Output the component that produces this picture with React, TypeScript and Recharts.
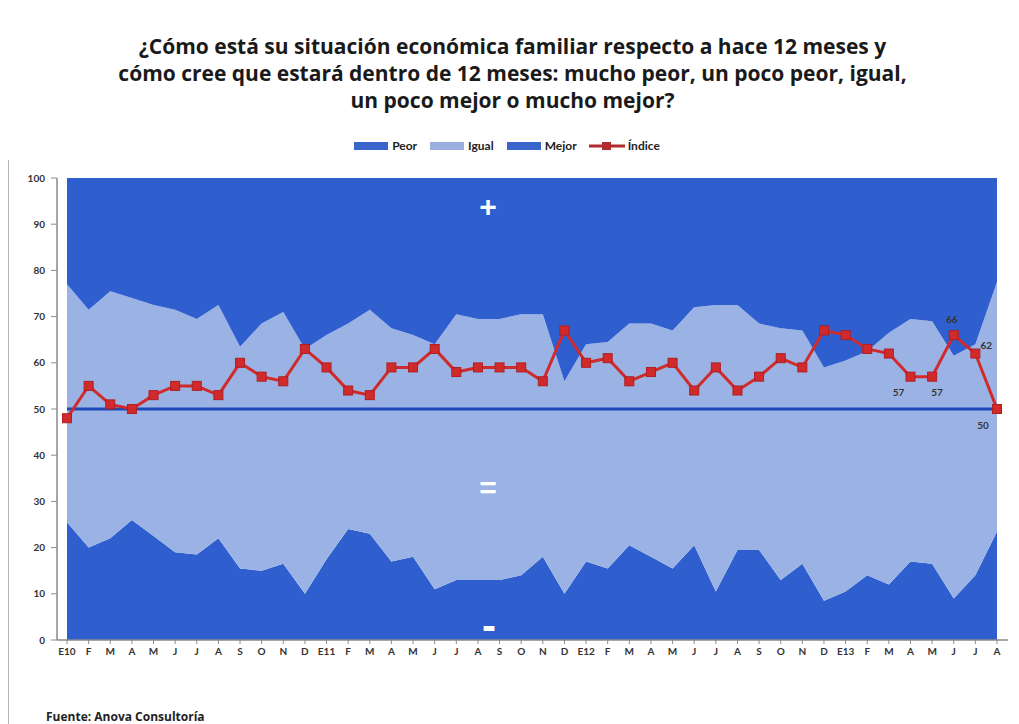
import React from 'react';
import {
  ComposedChart,
  Area,
  Line,
  XAxis,
  YAxis,
  ReferenceLine,
  LabelList,
  Legend,
} from 'recharts';

// Month ticks, January 2010 to August 2013
const monthLabels = [
  'E10', 'F', 'M', 'A', 'M', 'J', 'J', 'A', 'S', 'O', 'N', 'D',
  'E11', 'F', 'M', 'A', 'M', 'J', 'J', 'A', 'S', 'O', 'N', 'D',
  'E12', 'F', 'M', 'A', 'M', 'J', 'J', 'A', 'S', 'O', 'N', 'D',
  'E13', 'F', 'M', 'A', 'M', 'J', 'J', 'A',
];

// Share of answers (%) per month
const peor = [
  25.5, 20, 22, 26, 22.5, 19, 18.5, 22, 15.5, 15, 16.5, 10,
  17.5, 24, 23, 17, 18, 11, 13, 13, 13, 14, 18, 10,
  17, 15.5, 20.5, 18, 15.5, 20.5, 10.5, 19.5, 19.5, 13, 16.5, 8.5,
  10.5, 14, 12, 17, 16.5, 9, 14, 23.5,
];
const igual = [
  51.5, 51.5, 53.5, 48, 50, 52.5, 51, 50.5, 48, 53.5, 54.5, 53,
  48.5, 44.5, 48.5, 50.5, 48, 53, 57.5, 56.5, 56.5, 56.5, 52.5, 46,
  47, 49, 48, 50.5, 51.5, 51.5, 62, 53, 49, 54.5, 50.5, 50.5,
  50, 48.5, 54.5, 52.5, 52.5, 52.5, 50, 54,
];
const mejor = [
  23, 28.5, 24.5, 26, 27.5, 28.5, 30.5, 27.5, 36.5, 31.5, 29, 37,
  34, 31.5, 28.5, 32.5, 34, 36, 29.5, 30.5, 30.5, 29.5, 29.5, 44,
  36, 35.5, 31.5, 31.5, 33, 28, 27.5, 27.5, 31.5, 32.5, 33, 41,
  39.5, 37.5, 33.5, 30.5, 31, 38.5, 36, 22.5,
];
const indice = [
  48, 55, 51, 50, 53, 55, 55, 53, 60, 57, 56, 63,
  59, 54, 53, 59, 59, 63, 58, 59, 59, 59, 56, 67,
  60, 61, 56, 58, 60, 54, 59, 54, 57, 61, 59, 67,
  66, 63, 62, 57, 57, 66, 62, 50,
];
const yTicks = [0, 10, 20, 30, 40, 50, 60, 70, 80, 90, 100];

const data = monthLabels.map((_, i) => ({
  idx: i,
  peor: peor[i],
  igual: igual[i],
  mejor: mejor[i],
  indice: indice[i],
}));

const DARK = '#2f5fcf';
const LIGHT = '#9bb3e4';
const RED = '#d02a2b';
const FONT = 'Lato, "Open Sans", sans-serif';
const TITLE_FONT = '"Open Sans", Lato, sans-serif';

// Offsets of the value labels on the last five months
const labelOffsets: Record<number, [number, number]> = {
  39: [-12, 15],
  40: [5, 15],
  41: [-2, -16],
  42: [11, -9],
  43: [-14, 16],
};

const renderValueLabel = (props: any) => {
  const { x, y, value, index } = props;
  const off = labelOffsets[index];
  if (!off) return null;
  return (
    <text
      x={x + off[0]}
      y={y + off[1]}
      textAnchor="middle"
      dominantBaseline="central"
      fontFamily={FONT}
      fontWeight={700}
      fontSize={10}
      fill="#333"
    >
      {value}
    </text>
  );
};

const SquareDot = (props: any) => {
  const { cx, cy, index } = props;
  if (cx == null || cy == null) return null;
  return <rect key={`d-${index}`} x={cx - 4.5} y={cy - 4.5} width={9} height={9} fill={RED} stroke="#b01e22" strokeWidth={1} />;
};

const legendItems = [
  { name: 'Peor', kind: 'rect', color: '#3965cc' },
  { name: 'Igual', kind: 'rect', color: '#9ab0e0' },
  { name: 'Mejor', kind: 'rect', color: '#3965cc' },
  { name: 'Índice', kind: 'line', color: '#b02a2e' },
];

const renderLegend = () => (
  <div style={{ display: 'flex', justifyContent: 'center', alignItems: 'center', gap: 6, fontFamily: FONT, fontWeight: 700, fontSize: 12, color: '#222' }}>
    {legendItems.map((it) => (
      <div key={it.name} style={{ display: 'flex', alignItems: 'center', marginRight: 6 }}>
        <svg width={36} height={12} style={{ marginRight: 3 }}>
          {it.kind === 'rect' ? (
            <rect x={1} y={2} width={34} height={8} fill={it.color} />
          ) : (
            <g>
              <line x1={0} y1={6} x2={36} y2={6} stroke={it.color} strokeWidth={3} />
              <rect x={13} y={2} width={9} height={8} fill={it.color} />
            </g>
          )}
        </svg>
        <span>{it.name}</span>
      </div>
    ))}
  </div>
);

const overlayText = (text: string, left: number, top: number, size: number) => (
  <div
    style={{
      position: 'absolute',
      left,
      top,
      transform: 'translate(-50%, -50%)',
      color: '#ffffff',
      fontFamily: 'Arial, "Liberation Sans", sans-serif',
      fontWeight: 700,
      fontSize: size,
      lineHeight: 1,
      pointerEvents: 'none',
    }}
  >
    {text}
  </div>
);

export default function App() {
  return (
    <div style={{ position: 'absolute', left: 0, top: 0, width: 1019, height: 724, background: '#ffffff', overflow: 'hidden' }}>
      <div style={{ position: 'absolute', left: 8, top: 160, width: 1, height: 564, background: '#b5b5b5' }} />
      <div
        style={{
          position: 'absolute',
          left: 0,
          top: 33,
          width: 1025,
          textAlign: 'center',
          fontFamily: TITLE_FONT,
          fontWeight: 700,
          fontSize: 21,
          lineHeight: '27px',
          color: '#1a1a1a',
        }}
      >
        <div>¿Cómo está su situación económica familiar respecto a hace 12 meses y</div>
        <div>cómo cree que estará dentro de 12 meses: mucho peor, un poco peor, igual,</div>
        <div>un poco mejor o mucho mejor?</div>
      </div>

      <ComposedChart
        width={1019}
        height={724}
        data={data}
        margin={{ top: 178, right: 11, bottom: 36, left: 25 }}
      >
        <Legend
          content={renderLegend}
          wrapperStyle={{ position: 'absolute', top: 138, left: 0, width: 1019, height: 18 }}
        />
        <XAxis
          dataKey="idx"
          type="category"
          padding={{ left: 10, right: 11 }}
          interval={0}
          tickFormatter={(v: number) => monthLabels[v]}
          tick={{ fontFamily: FONT, fontWeight: 700, fontSize: 10, fill: '#333' }}
          tickSize={4}
          tickMargin={4}
          height={30}
          axisLine={{ stroke: '#8a8a8a', strokeWidth: 1.5 }}
          tickLine={{ stroke: '#8a8a8a' }}
        />
        <YAxis
          domain={[0, 100]}
          ticks={yTicks}
          interval={0}
          width={32}
          tick={{ fontFamily: FONT, fontWeight: 700, fontSize: 10, fill: '#333' }}
          tickSize={6}
          tickMargin={6}
          axisLine={{ stroke: '#8a8a8a', strokeWidth: 1.5 }}
          tickLine={{ stroke: '#8a8a8a' }}
        />
        <Area type="linear" dataKey="peor" stackId="s" fill={DARK} fillOpacity={1} stroke="none" isAnimationActive={false} />
        <Area type="linear" dataKey="igual" stackId="s" fill={LIGHT} fillOpacity={1} stroke="none" isAnimationActive={false} />
        <Area type="linear" dataKey="mejor" stackId="s" fill={DARK} fillOpacity={1} stroke="none" isAnimationActive={false} />
        <ReferenceLine
          segment={[{ x: 0, y: 50 }, { x: monthLabels.length - 1, y: 50 }]}
          stroke="#1f48b8"
          strokeWidth={3}
        />
        <Line
          type="linear"
          dataKey="indice"
          stroke={RED}
          strokeWidth={3}
          dot={<SquareDot />}
          activeDot={false}
          isAnimationActive={false}
        >
          <LabelList dataKey="indice" content={renderValueLabel} />
        </Line>
      </ComposedChart>

      {overlayText('+', 488, 207, 30)}
      {overlayText('=', 488, 488, 30)}
      {overlayText('-', 489, 626, 42)}

      <div
        style={{
          position: 'absolute',
          left: 46,
          top: 708,
          fontFamily: TITLE_FONT,
          fontWeight: 700,
          fontSize: 12,
          color: '#222',
        }}
      >
        Fuente: Anova Consultoría
      </div>
    </div>
  );
}
